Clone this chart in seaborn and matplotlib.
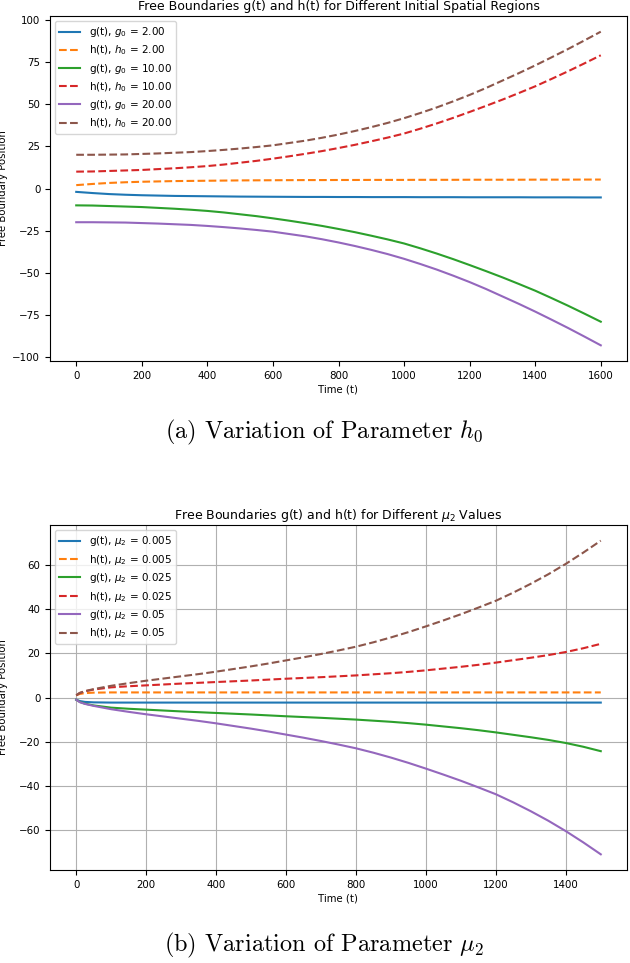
import numpy as np
import pandas as pd
import matplotlib
matplotlib.use("Agg")
import matplotlib.pyplot as plt
from matplotlib.ticker import MultipleLocator
import seaborn as sns

# (a) varying initial region, values every 50 time units
t_a = [0, 50, 100, 150, 200, 250, 300, 350, 400, 450, 500, 550, 600, 650, 700, 750, 800,
       850, 900, 950, 1000, 1050, 1100, 1150, 1200, 1250, 1300, 1350, 1400, 1450, 1500, 1550, 1600]
g_a2 = [-2.0, -2.7, -3.3, -3.7, -4.0, -4.2, -4.4, -4.5, -4.6, -4.7, -4.8, -4.85, -4.9, -4.95, -5.0, -5.0, -5.05,
        -5.05, -5.1, -5.1, -5.1, -5.15, -5.15, -5.15, -5.2, -5.2, -5.2, -5.2, -5.25, -5.25, -5.25, -5.3, -5.3]
h_a2 = [2.0, 2.7, 3.3, 3.7, 4.0, 4.2, 4.4, 4.5, 4.6, 4.7, 4.8, 4.85, 4.9, 4.95, 5.0, 5.0, 5.05,
        5.05, 5.1, 5.1, 5.1, 5.15, 5.15, 5.15, 5.2, 5.2, 5.2, 5.2, 5.25, 5.25, 5.25, 5.3, 5.3]
g_a10 = [-10.0, -10.1, -10.4, -10.7, -11.0, -11.5, -12.0, -12.6, -13.3, -14.2, -15.3, -16.4, -17.7, -19.1, -20.6, -22.2, -24.0,
         -25.9, -28.0, -30.2, -32.6, -35.5, -38.6, -41.9, -45.4, -49.0, -52.7, -56.6, -60.6, -65.0, -69.5, -74.2, -79.0]
h_a10 = [10.0, 10.1, 10.4, 10.7, 11.0, 11.5, 12.0, 12.6, 13.3, 14.2, 15.3, 16.4, 17.7, 19.1, 20.6, 22.2, 24.0,
         25.9, 28.0, 30.2, 32.6, 35.5, 38.6, 41.9, 45.4, 49.0, 52.7, 56.6, 60.6, 65.0, 69.5, 74.2, 79.0]
g_a20 = [-20.0, -20.0, -20.1, -20.2, -20.5, -20.8, -21.2, -21.6, -22.2, -22.9, -23.7, -24.6, -25.6, -27.0, -28.4, -30.1, -32.0,
         -34.1, -36.4, -38.9, -41.7, -44.8, -48.1, -51.7, -55.5, -59.6, -64.0, -68.4, -73.0, -77.8, -82.7, -87.8, -93.0]
h_a20 = [20.0, 20.0, 20.1, 20.2, 20.5, 20.8, 21.2, 21.6, 22.2, 22.9, 23.7, 24.6, 25.6, 27.0, 28.4, 30.1, 32.0,
         34.1, 36.4, 38.9, 41.7, 44.8, 48.1, 51.7, 55.5, 59.6, 64.0, 68.4, 73.0, 77.8, 82.7, 87.8, 93.0]

# (b) varying mu_2
t_b = [0, 10, 25, 50, 100, 150, 200, 250, 300, 350, 400, 450, 500, 550, 600, 650, 700, 750, 800,
       850, 900, 950, 1000, 1050, 1100, 1150, 1200, 1250, 1300, 1350, 1400, 1450, 1500]
g_b1 = [-1.0, -1.6, -2.0, -2.2, -2.3, -2.3, -2.3, -2.3, -2.3, -2.3, -2.3, -2.3, -2.3, -2.3, -2.3, -2.3, -2.3, -2.3, -2.3,
        -2.3, -2.3, -2.3, -2.3, -2.3, -2.3, -2.3, -2.3, -2.3, -2.3, -2.3, -2.3, -2.3, -2.3]
h_b1 = [1.0, 1.6, 2.0, 2.2, 2.3, 2.3, 2.3, 2.3, 2.3, 2.3, 2.3, 2.3, 2.3, 2.3, 2.3, 2.3, 2.3, 2.3, 2.3,
        2.3, 2.3, 2.3, 2.3, 2.3, 2.3, 2.3, 2.3, 2.3, 2.3, 2.3, 2.3, 2.3, 2.3]
g_b2 = [-1.0, -2.0, -2.8, -3.6, -4.6, -5.1, -5.5, -5.9, -6.3, -6.65, -7.0, -7.35, -7.7, -8.1, -8.5, -8.85, -9.2, -9.6, -10.0,
        -10.5, -11.0, -11.6, -12.3, -13.1, -13.9, -14.8, -15.8, -16.9, -18.0, -19.2, -20.6, -22.3, -24.3]
h_b2 = [1.0, 2.0, 2.8, 3.6, 4.6, 5.1, 5.5, 5.9, 6.3, 6.65, 7.0, 7.35, 7.7, 8.1, 8.5, 8.85, 9.2, 9.6, 10.0,
        10.5, 11.0, 11.6, 12.3, 13.1, 13.9, 14.8, 15.8, 16.9, 18.0, 19.2, 20.6, 22.3, 24.3]
g_b3 = [-1.0, -2.1, -2.9, -3.8, -5.3, -6.5, -7.6, -8.6, -9.6, -10.6, -11.7, -12.9, -14.1, -15.4, -16.8, -18.2, -19.7, -21.3, -23.0,
        -25.0, -27.2, -29.6, -32.2, -34.9, -37.7, -40.7, -43.8, -47.5, -51.5, -55.8, -60.5, -65.6, -71.0]
h_b3 = [1.0, 2.1, 2.9, 3.8, 5.3, 6.5, 7.6, 8.6, 9.6, 10.6, 11.7, 12.9, 14.1, 15.4, 16.8, 18.2, 19.7, 21.3, 23.0,
        25.0, 27.2, 29.6, 32.2, 34.9, 37.7, 40.7, 43.8, 47.5, 51.5, 55.8, 60.5, 65.6, 71.0]

labels_a = ["g(t), $g_0$ = 2.00", "h(t), $h_0$ = 2.00",
            "g(t), $g_0$ = 10.00", "h(t), $h_0$ = 10.00",
            "g(t), $g_0$ = 20.00", "h(t), $h_0$ = 20.00"]
labels_b = ["g(t), $\\mu_2$ = 0.005", "h(t), $\\mu_2$ = 0.005",
            "g(t), $\\mu_2$ = 0.025", "h(t), $\\mu_2$ = 0.025",
            "g(t), $\\mu_2$ = 0.05", "h(t), $\\mu_2$ = 0.05"]

series_a = [g_a2, h_a2, g_a10, h_a10, g_a20, h_a20]
series_b = [g_b1, h_b1, g_b2, h_b2, g_b3, h_b3]

colors = sns.color_palette("tab10", 6)

fig = plt.figure(figsize=(6.3, 9.63), dpi=100)
ax1 = fig.add_axes([50 / 630, 1 - 361 / 963, 577 / 630, 345 / 963])
ax2 = fig.add_axes([50 / 630, 1 - 870 / 963, 577 / 630, 345 / 963])


def draw(ax, t, series, labels):
    for i, (vals, lab) in enumerate(zip(series, labels)):
        df = pd.DataFrame({"t": t, "v": vals})
        ls = "-" if i % 2 == 0 else "--"
        sns.lineplot(data=df, x="t", y="v", ax=ax, color=colors[i],
                     linestyle=ls, linewidth=1.5, label=lab)
    ax.set_xlabel("Time (t)", fontsize=7.3, labelpad=3)
    ax.set_ylabel("Free Boundary Position", fontsize=7.3)
    ax.yaxis.set_label_coords(-0.072, 0.5)
    ax.tick_params(labelsize=7.4)
    ax.xaxis.set_major_locator(MultipleLocator(200))
    ax.legend(loc="upper left", fontsize=7.5, labelspacing=0.42)


draw(ax1, t_a, series_a, labels_a)
ax1.yaxis.set_major_locator(MultipleLocator(25))
ax1.set_title("Free Boundaries g(t) and h(t) for Different Initial Spatial Regions",
              fontsize=9, pad=4)

draw(ax2, t_b, series_b, labels_b)
ax2.yaxis.set_major_locator(MultipleLocator(20))
ax2.grid(True)
ax2.set_title("Free Boundaries g(t) and h(t) for Different $\\mu_2$ Values",
              fontsize=9, pad=4)

fig.text(324 / 630, 1 - 432 / 963, "(a) Variation of Parameter $h_0$",
         ha="center", va="center", fontsize=17.5, family="cmr10",
         math_fontfamily="cm")
fig.text(324 / 630, 1 - 945 / 963, "(b) Variation of Parameter $\\mu_2$",
         ha="center", va="center", fontsize=17.5, family="cmr10",
         math_fontfamily="cm")

fig.savefig("out.png", dpi=100)
